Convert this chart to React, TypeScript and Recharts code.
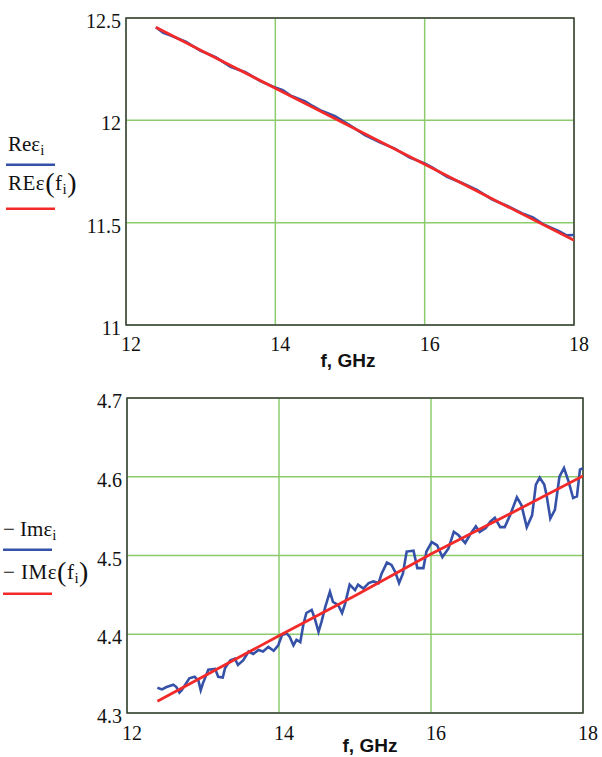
import React from 'react';
import {
  LineChart,
  Line,
  XAxis,
  YAxis,
  CartesianGrid,
  ReferenceArea,
} from 'recharts';

// Real part: measured samples and fitted curve
const reFreq = [
  12.4, 12.5, 12.6, 12.8, 13.0, 13.2, 13.4, 13.6, 13.8, 14.0, 14.1, 14.2, 14.4, 14.5, 14.6, 14.8, 15.0,
  15.2, 15.4, 15.6, 15.8, 16.0, 16.1, 16.3, 16.5, 16.7, 16.9, 17.1, 17.3, 17.45, 17.6, 17.8, 17.9, 18.0,
];
const reMeasured = [
  12.455, 12.428, 12.414, 12.384, 12.34, 12.309, 12.262, 12.235, 12.192, 12.16, 12.147, 12.122, 12.093,
  12.07, 12.05, 12.02, 11.975, 11.928, 11.892, 11.862, 11.818, 11.79, 11.77, 11.724, 11.694, 11.66,
  11.614, 11.583, 11.546, 11.526, 11.49, 11.458, 11.438, 11.44,
];
const reFitFreq = [12.4, 13, 14, 15, 16, 17, 18];
const reFit = [12.455, 12.343, 12.157, 11.971, 11.785, 11.599, 11.414];

// Imaginary part: measured samples and fitted curve
const imFreq = [
  12.4, 12.46, 12.52, 12.61, 12.65, 12.69, 12.72, 12.82, 12.89, 12.94, 12.97, 13.0, 13.07, 13.16, 13.2,
  13.26, 13.29, 13.36, 13.42, 13.46, 13.53, 13.6, 13.66, 13.73, 13.79, 13.86, 13.93, 13.99, 14.04, 14.1,
  14.14, 14.19, 14.23, 14.28, 14.32, 14.36, 14.43, 14.47, 14.52, 14.56, 14.61, 14.67, 14.71, 14.78,
  14.83, 14.87, 14.93, 15.0, 15.04, 15.11, 15.18, 15.24, 15.31, 15.35, 15.42, 15.48, 15.53, 15.58,
  15.63, 15.68, 15.77, 15.82, 15.9, 15.94, 16.01, 16.08, 16.15, 16.23, 16.3, 16.36, 16.45, 16.51,
  16.59, 16.64, 16.72, 16.78, 16.84, 16.91, 16.97, 17.04, 17.13, 17.19, 17.26, 17.33, 17.38, 17.43,
  17.49, 17.52, 17.57, 17.63, 17.69, 17.75, 17.81, 17.87, 17.92, 17.96, 18.0,
];
const imMeasured = [
  4.332, 4.33, 4.333, 4.336, 4.333, 4.326, 4.329, 4.344, 4.346, 4.341, 4.329, 4.338, 4.355, 4.356,
  4.346, 4.345, 4.357, 4.367, 4.369, 4.361, 4.367, 4.378, 4.375, 4.38, 4.378, 4.384, 4.379, 4.386,
  4.399, 4.401, 4.397, 4.386, 4.393, 4.39, 4.412, 4.427, 4.431, 4.42, 4.403, 4.416, 4.435, 4.454,
  4.441, 4.437, 4.427, 4.439, 4.463, 4.456, 4.463, 4.458, 4.465, 4.467, 4.465, 4.477, 4.491, 4.488,
  4.479, 4.465, 4.477, 4.505, 4.506, 4.484, 4.484, 4.505, 4.517, 4.513, 4.498, 4.509, 4.53, 4.526,
  4.516, 4.526, 4.537, 4.53, 4.535, 4.543, 4.548, 4.536, 4.536, 4.551, 4.574, 4.564, 4.536, 4.551,
  4.59, 4.599, 4.59, 4.577, 4.547, 4.558, 4.6, 4.611, 4.594, 4.573, 4.575, 4.609, 4.611,
];
const imFitFreq = [12.4, 14, 15, 16, 17, 18];
const imFit = [4.315, 4.398, 4.449, 4.502, 4.551, 4.601];

const freqTicks = [12, 14, 16, 18];
const reTicks = [11, 11.5, 12, 12.5];
const imTicks = [4.3, 4.4, 4.5, 4.6, 4.7];

const BLUE = '#3552a8';
const RED = '#f22a2a';
const GRID = '#8ccb6c';
const FRAME = '#3c3c3c';
const SERIF = '"Liberation Serif", "Times New Roman", serif';
const SANS = '"Liberation Sans", Arial, sans-serif';

const toPoints = (xs: number[], ys: number[]) => xs.map((f, i) => ({ f, v: ys[i] }));

const XTick = ({ x, y, payload, shift = 5, drop = 26 }: any) => (
  <text x={x + shift} y={y + drop} textAnchor="middle" fontFamily={SERIF} fontSize={20} fill="#111">
    {payload.value}
  </text>
);

const YTick = ({ x, y, payload }: any) => (
  <text x={x - 5} y={y + 10} textAnchor="end" fontFamily={SERIF} fontSize={20} fill="#111">
    {payload.value}
  </text>
);

interface PanelProps {
  top: number;
  height: number;
  yAxisWidth: number;
  rightMargin: number;
  axisHeight: number;
  yTicks: number[];
  measured: { f: number; v: number }[];
  fit: { f: number; v: number }[];
  tickDrop: number;
  titleOffset: number;
  titleDx: number;
}

function Panel(p: PanelProps) {
  const yMin = p.yTicks[0];
  const yMax = p.yTicks[p.yTicks.length - 1];
  return (
    <div style={{ position: 'absolute', left: 0, top: p.top }}>
      <LineChart width={602} height={p.height} margin={{ top: 18, right: p.rightMargin, left: 0, bottom: 0 }}>
        <CartesianGrid stroke={GRID} strokeWidth={1.5} />
        <XAxis
          dataKey="f"
          type="number"
          domain={[12, 18]}
          ticks={freqTicks}
          allowDataOverflow
          height={p.axisHeight}
          axisLine={false}
          tickLine={false}
          tickSize={0}
          tickMargin={0}
          tick={<XTick drop={p.tickDrop} />}
          label={{
            value: 'f, GHz',
            position: 'insideBottom',
            offset: p.titleOffset,
            dx: p.titleDx,
            fontFamily: SANS,
            fontSize: 19,
            fontWeight: 700,
            fill: '#111',
          }}
        />
        <YAxis
          dataKey="v"
          type="number"
          domain={[yMin, yMax]}
          ticks={p.yTicks}
          allowDataOverflow
          width={p.yAxisWidth}
          axisLine={false}
          tickLine={false}
          tickSize={0}
          tickMargin={0}
          tick={<YTick />}
        />
        <ReferenceArea
          x1={12}
          x2={18}
          y1={yMin}
          y2={yMax}
          fill="none"
          fillOpacity={0}
          stroke={FRAME}
          strokeWidth={1.5}
          ifOverflow="visible"
        />
        <Line
          data={p.measured}
          dataKey="v"
          type="linear"
          stroke={BLUE}
          strokeWidth={2.6}
          dot={false}
          isAnimationActive={false}
        />
        <Line
          data={p.fit}
          dataKey="v"
          type="linear"
          stroke={RED}
          strokeWidth={2.8}
          dot={false}
          isAnimationActive={false}
        />
      </LineChart>
    </div>
  );
}

function LegendOverlay() {
  return (
    <svg
      width={130}
      height={757}
      style={{ position: 'absolute', left: 0, top: 0, pointerEvents: 'none' }}
      fontFamily={SERIF}
      fill="#111"
    >
      {/* upper panel */}
      <text x={8} y={151} fontSize={21}>
        Reε<tspan fontSize={15} dy={4}>i</tspan>
      </text>
      <rect x={6} y={163.5} width={49} height={2.5} fill={BLUE} />
      <text x={8} y={190} fontSize={21} letterSpacing={0.5}>
        REε<tspan fontSize={28} dy={2}>(</tspan>
        <tspan dy={-2}>f</tspan>
        <tspan fontSize={15} dy={4}>i</tspan>
        <tspan fontSize={28} dy={-2}>)</tspan>
      </text>
      <rect x={6} y={207.5} width={49} height={2.5} fill={RED} />

      {/* lower panel */}
      <text x={3} y={536} fontSize={21}>
        − Imε<tspan fontSize={15} dy={4}>i</tspan>
      </text>
      <rect x={3} y={548.5} width={49} height={2.5} fill={BLUE} />
      <text x={3} y={579} fontSize={21} letterSpacing={0.5}>
        − IMε<tspan fontSize={28} dy={2}>(</tspan>
        <tspan dy={-2}>f</tspan>
        <tspan fontSize={15} dy={4}>i</tspan>
        <tspan fontSize={28} dy={-2}>)</tspan>
      </text>
      <rect x={3} y={592.5} width={49} height={2.5} fill={RED} />
    </svg>
  );
}

export default function App() {
  return (
    <div style={{ position: 'absolute', left: 0, top: 0, width: 602, height: 757, background: '#fff', overflow: 'hidden' }}>
      <Panel
        top={0}
        height={380}
        yAxisWidth={126}
        rightMargin={28}
        axisHeight={55}
        yTicks={reTicks}
        measured={toPoints(reFreq, reMeasured)}
        fit={toPoints(reFitFreq, reFit)}
        tickDrop={26}
        titleOffset={13}
        titleDx={-2}
      />
      <Panel
        top={380}
        height={377}
        yAxisWidth={127}
        rightMargin={19}
        axisHeight={44}
        yTicks={imTicks}
        measured={toPoints(imFreq, imMeasured)}
        fit={toPoints(imFitFreq, imFit)}
        tickDrop={27}
        titleOffset={5}
        titleDx={15}
      />
      <LegendOverlay />
    </div>
  );
}
